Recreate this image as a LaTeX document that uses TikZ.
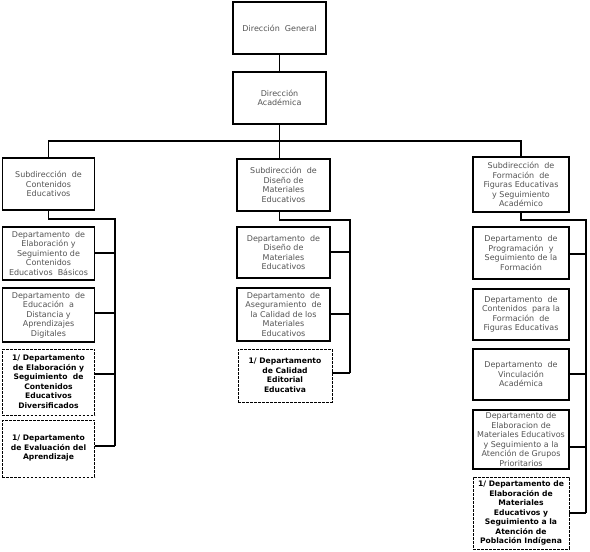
\documentclass[tikz,border=0pt]{standalone}
\usepackage{fontspec}
\setmainfont{DejaVu Sans}
\definecolor{txtgray}{rgb}{0.33,0.33,0.33}
\newcommand{\regfont}{\fontsize{8bp}{9.5bp}\selectfont}
\newcommand{\bldfont}{\fontsize{7.6bp}{9.5bp}\selectfont\bfseries}
\begin{document}
\begin{tikzpicture}[x=1bp,y=-1bp,
  box/.style={draw, line width=1.2bp, align=center, inner sep=0pt, font=\regfont, text=txtgray},
  dbox/.style={draw, dash pattern=on 2.6bp off 1.4bp, line width=0.9bp, align=center, inner sep=0pt, font=\bldfont, text=black},
  conn/.style={draw, line width=1.2bp}]
\fill[white] (0,0) rectangle (590,552);
\useasboundingbox (0,0) rectangle (590,552);

% top
\node[box, minimum width=93bp, minimum height=52bp] (DG) at (279.5,28) {Dirección\ \ General};
\node[box, minimum width=93bp, minimum height=52bp] (DA) at (279.5,98) {Dirección\\Académica};

% subdirecciones
\node[box, minimum width=92bp, minimum height=52bp] (S1) at (48.5,184) {Subdirección\ \ de\\Contenidos\\Educativos};
\node[box, minimum width=93bp, minimum height=52bp] (S2) at (283.5,185) {Subdirección\ \ de\\Diseño de\\Materiales\\Educativos};
\node[box, minimum width=96bp, minimum height=55bp] (S3) at (521,184.5) {Subdirección\ \ de\\Formación\ \ de\\Figuras Educativas\\y Seguimiento\\Académico};

% left column
\node[box, minimum width=92bp, minimum height=53bp] (L1) at (48.5,253.5) {Departamento\ \ de\\Elaboración y\\Seguimiento de\\Contenidos\\Educativos\ \ Básicos};
\node[box, minimum width=92bp, minimum height=54bp] (L2) at (48.5,315) {Departamento\ \ de\\Educación\ \ a\\Distancia y\\Aprendizajes\\Digitales};
\node[dbox, minimum width=92bp, minimum height=66bp] (L3) at (48.5,382) {1/ Departamento\\de Elaboración y\\Seguimiento\ \ de\\Contenidos\\Educativos\\Diversificados};
\node[dbox, minimum width=92bp, minimum height=57bp] (L4) at (48.5,448.5) {1/ Departamento\\de Evaluación del\\Aprendizaje};

% middle column
\node[box, minimum width=93bp, minimum height=51bp] (M1) at (283.5,252.5) {Departamento\ \ de\\Diseño de\\Materiales\\Educativos};
\node[box, minimum width=93bp, minimum height=53bp] (M2) at (283.5,314.5) {Departamento\ \ de\\Aseguramiento\ \ de\\la Calidad de los\\Materiales\\Educativos};
\node[dbox, minimum width=94bp, minimum height=53bp] (M3) at (285,375.5) {1/ Departamento\\de Calidad\\Editorial\\Educativa};

% right column
\node[box, minimum width=96bp, minimum height=52bp] (R1) at (521,253) {Departamento\ \ de\\Programación\ \ y\\Seguimiento de la\\Formación};
\node[box, minimum width=96bp, minimum height=51bp] (R2) at (521,314.5) {Departamento\ \ de\\Contenidos\ \ para la\\Formación\ \ de\\Figuras Educativas};
\node[box, minimum width=96bp, minimum height=51bp] (R3) at (521,374.5) {Departamento\ \ de\\Vinculación\\Académica};
\node[box, minimum width=96bp, minimum height=59bp] (R4) at (521,439.5) {Departamento de\\Elaboracion de\\Materiales Educativos\\y Seguimiento a la\\Atención de Grupos\\Prioritarios};
\node[dbox, minimum width=96bp, minimum height=72bp] (R5) at (521,513) {1/ Departamento de\\Elaboración de\\Materiales\\Educativos y\\Seguimiento a la\\Atención de\\Población Indígena};

% bus coordinates
\coordinate (top) at (280,141);
\coordinate (lb) at (115,219);
\coordinate (lb1) at (115,253);
\coordinate (lb2) at (115,313);
\coordinate (lb3) at (115,374);
\coordinate (lb4) at (115,446);
\coordinate (mb) at (350,220);
\coordinate (mb1) at (350,252);
\coordinate (mb2) at (350,314);
\coordinate (mb3) at (350,373);
\coordinate (rb) at (586,220);
\coordinate (rb1) at (586,254);
\coordinate (rb3) at (586,374);
\coordinate (rb4) at (586,447);
\coordinate (rb5) at (586,513);

% connectors
\draw[conn] (DG.south) -- (DA.north);
\draw[conn] (DA.south) -- (DA.south |- S2.north);
\draw[conn] (S1.north) -- (S1.north |- top) -- (S3.north |- top) -- (S3.north);

\draw[conn] (S1.south) -- (S1.south |- lb) -- (lb) -- (lb4);
\draw[conn] (lb1 -| L1.east) -- (lb1);
\draw[conn] (lb2 -| L2.east) -- (lb2);
\draw[conn] (lb3 -| L3.east) -- (lb3);
\draw[conn] (lb4 -| L4.east) -- (lb4);

\draw[conn] (S2.south -| DA.south) -- (mb -| DA.south) -- (mb) -- (mb3);
\draw[conn] (mb1 -| M1.east) -- (mb1);
\draw[conn] (mb2 -| M2.east) -- (mb2);
\draw[conn] (mb3 -| M3.east) -- (mb3);

\draw[conn] (S3.south) -- (S3.south |- rb) -- (rb) -- (rb5);
\draw[conn] (rb1 -| R1.east) -- (rb1);
\draw[conn] (rb3 -| R3.east) -- (rb3);
\draw[conn] (rb4 -| R4.east) -- (rb4);
\draw[conn] (rb5 -| R5.east) -- (rb5);
\end{tikzpicture}
\end{document}
